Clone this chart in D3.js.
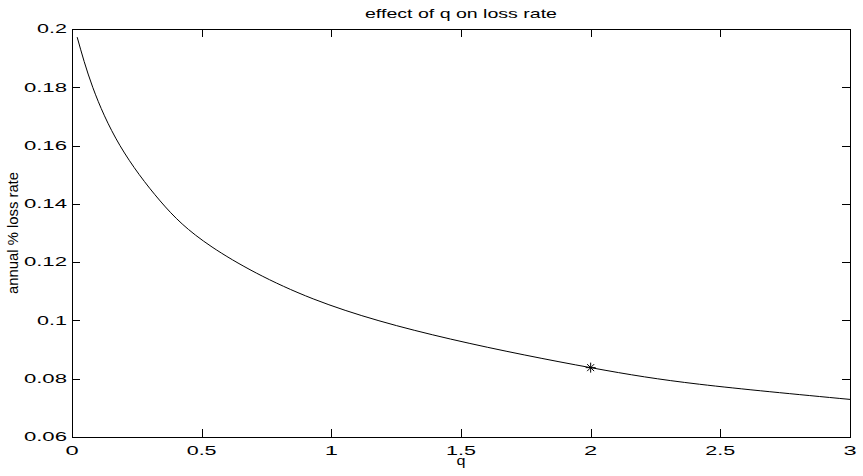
<!DOCTYPE html>
<html>
<head>
<meta charset="utf-8">
<script src="https://cdn.jsdelivr.net/npm/d3@7"></script>
<style>
	body { margin: 0; background: #fff; }
	svg { display: block; font-family: "Liberation Sans", Arial, sans-serif; }
	text { fill: #000; }
</style>
</head>
<body>
<svg width="863" height="476"></svg>
<script>

	// values
	var qValues = [ 0.02, 0.08, 0.185, 0.34, 0.54, 0.93, 1.46, 2.0, 2.42, 3.0 ],
		lossValues = [ 0.1972, 0.18, 0.16, 0.141, 0.1252, 0.1074, 0.0936, 0.0838, 0.0781, 0.0729 ],
		markerQ = [ 2 ],
		markerLoss = [ 0.0838 ],
		xTicks = [ 0, 0.5, 1, 1.5, 2, 2.5, 3 ],
		yTicks = [ 0.06, 0.08, 0.1, 0.12, 0.14, 0.16, 0.18, 0.2 ];

	var svg = d3.select( 'svg' ),
		axLeft = 72,
		axRight = 850,
		axTop = 29,
		axBottom = 437,
		tickLen = 8,
		x, y, line, fmt;

	x = d3.scaleLinear().domain( [ 0, 3 ] ).range( [ axLeft, axRight ] );
	y = d3.scaleLinear().domain( [ 0.06, 0.2 ] ).range( [ axBottom, axTop ] );

	fmt = function( v ) {
		return String( +v.toFixed( 2 ) );
	};

	/**
	 * the labels are drawn wide, so stretch them to a given width
	 * @param	{String}	s
	 */
	function labelWidth( s ) {
		var digits = s.replace( /[^0-9]/g, '' ).length,
			dots = s.length - digits;
		return digits * 13.2 + dots * 3.5;
	}

	// box
	svg.append( 'rect' )
		.attr( 'x', axLeft + 0.5 )
		.attr( 'y', axTop + 0.5 )
		.attr( 'width', axRight - axLeft )
		.attr( 'height', axBottom - axTop )
		.attr( 'fill', 'none' )
		.attr( 'stroke', '#000' )
		.attr( 'stroke-width', 1 );

	// ticks on all four sides, pointing in
	xTicks.forEach( function( t ) {
		var px = Math.round( x( t ) ) + 0.5;
		svg.append( 'line' ).attr( 'x1', px ).attr( 'x2', px )
			.attr( 'y1', axBottom ).attr( 'y2', axBottom - tickLen )
			.attr( 'stroke', '#000' );
		svg.append( 'line' ).attr( 'x1', px ).attr( 'x2', px )
			.attr( 'y1', axTop ).attr( 'y2', axTop + tickLen )
			.attr( 'stroke', '#000' );
		svg.append( 'text' )
			.text( fmt( t ) )
			.attr( 'x', x( t ) )
			.attr( 'y', axBottom + 18 )
			.attr( 'text-anchor', 'middle' )
			.attr( 'font-size', 12 )
			.attr( 'textLength', labelWidth( fmt( t ) ) )
			.attr( 'lengthAdjust', 'spacingAndGlyphs' );
	} );

	yTicks.forEach( function( t ) {
		var py = Math.round( y( t ) ) + 0.5;
		svg.append( 'line' ).attr( 'x1', axLeft ).attr( 'x2', axLeft + tickLen )
			.attr( 'y1', py ).attr( 'y2', py )
			.attr( 'stroke', '#000' );
		svg.append( 'line' ).attr( 'x1', axRight ).attr( 'x2', axRight - tickLen )
			.attr( 'y1', py ).attr( 'y2', py )
			.attr( 'stroke', '#000' );
		svg.append( 'text' )
			.text( fmt( t ) )
			.attr( 'x', axLeft - 5 )
			.attr( 'y', y( t ) + 4.3 )
			.attr( 'text-anchor', 'end' )
			.attr( 'font-size', 12 )
			.attr( 'textLength', labelWidth( fmt( t ) ) )
			.attr( 'lengthAdjust', 'spacingAndGlyphs' );
	} );

	// curve
	line = d3.line()
		.x( function( d, i ) { return x( qValues[ i ] ); } )
		.y( function( d, i ) { return y( lossValues[ i ] ); } )
		.curve( d3.curveNatural );

	svg.append( 'path' )
		.datum( qValues )
		.attr( 'd', line )
		.attr( 'fill', 'none' )
		.attr( 'stroke', '#000' )
		.attr( 'stroke-width', 1 );

	// '*' marker
	markerQ.forEach( function( q, i ) {
		var cx = x( q ),
			cy = y( markerLoss[ i ] ),
			r = 5,
			d = r * 0.7,
			p = d3.path();
		p.moveTo( cx - r, cy ); p.lineTo( cx + r, cy );
		p.moveTo( cx, cy - r ); p.lineTo( cx, cy + r );
		p.moveTo( cx - d, cy - d ); p.lineTo( cx + d, cy + d );
		p.moveTo( cx - d, cy + d ); p.lineTo( cx + d, cy - d );
		svg.append( 'path' )
			.attr( 'd', p.toString() )
			.attr( 'stroke', '#000' )
			.attr( 'stroke-width', 1 )
			.attr( 'fill', 'none' );
	} );

	// title and axis labels
	svg.append( 'text' )
		.text( 'effect of q on loss rate' )
		.attr( 'x', ( axLeft + axRight ) / 2 )
		.attr( 'y', 18 )
		.attr( 'text-anchor', 'middle' )
		.attr( 'font-size', 13 )
		.attr( 'textLength', 192 )
		.attr( 'lengthAdjust', 'spacingAndGlyphs' );

	svg.append( 'text' )
		.text( 'q' )
		.attr( 'x', ( axLeft + axRight ) / 2 )
		.attr( 'y', 465 )
		.attr( 'text-anchor', 'middle' )
		.attr( 'font-size', 12 )
		.attr( 'textLength', 9 )
		.attr( 'lengthAdjust', 'spacingAndGlyphs' );

	svg.append( 'text' )
		.text( 'annual % loss rate' )
		.attr( 'transform', 'translate(18,' + ( ( axTop + axBottom ) / 2 ) + ') rotate(-90)' )
		.attr( 'text-anchor', 'middle' )
		.attr( 'font-size', 14 )
		.attr( 'textLength', 122 )
		.attr( 'lengthAdjust', 'spacingAndGlyphs' );

</script>
</body>
</html>
